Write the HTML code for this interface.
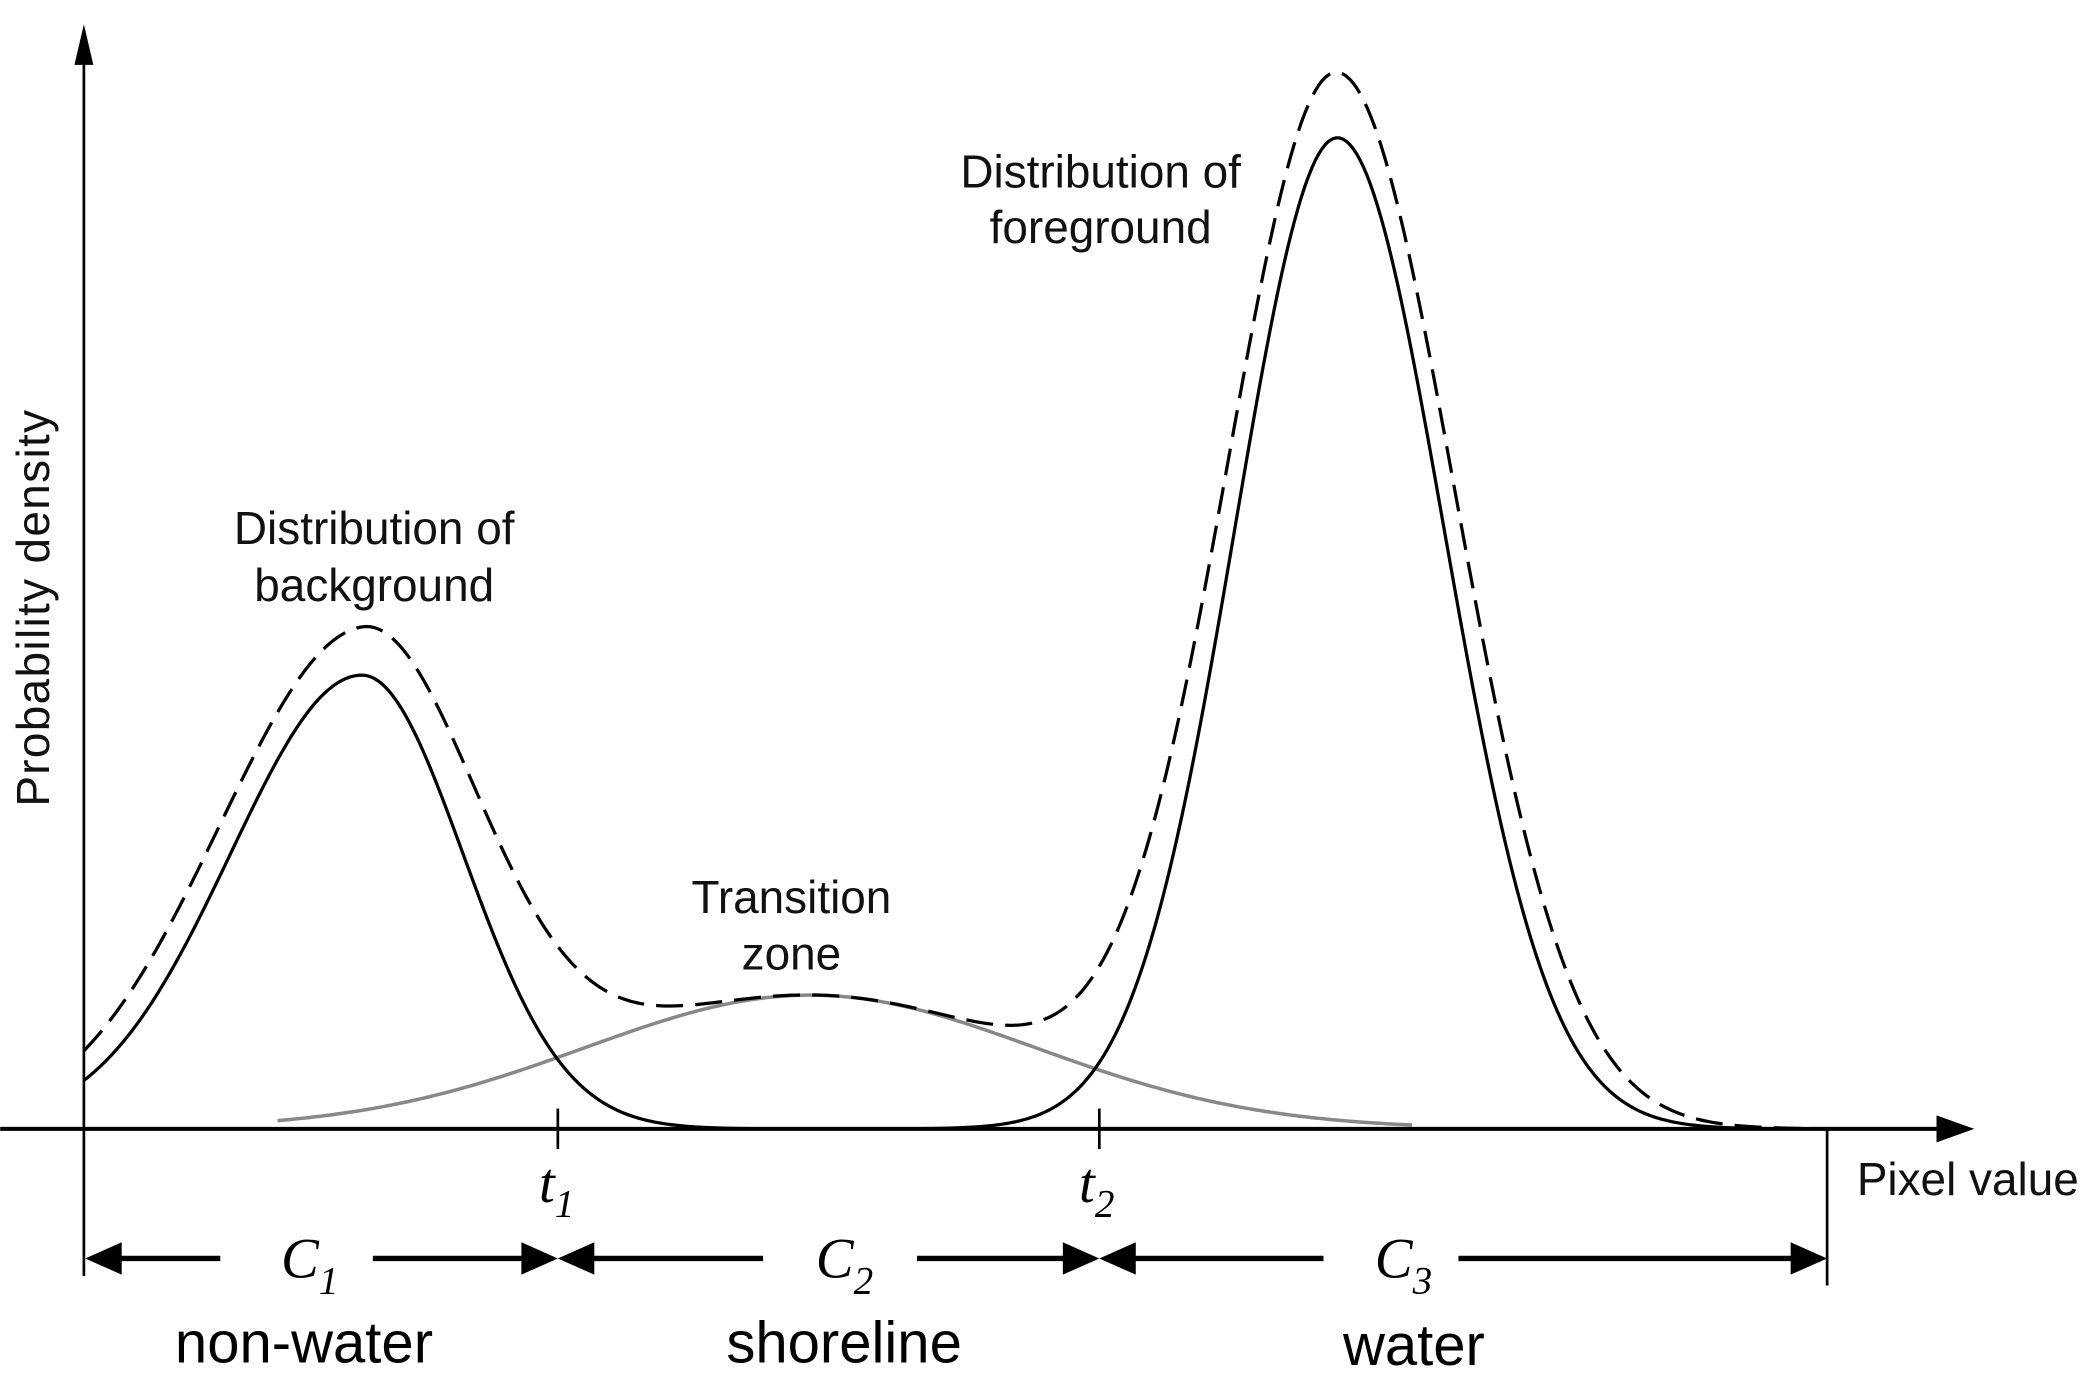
<!DOCTYPE html>
<html><head><meta charset="utf-8"><style>
html,body{margin:0;padding:0;background:#fff;}
svg{display:block;font-family:"Liberation Sans",sans-serif;}
.lbl{font-size:34px;fill:#111;}
.big{font-size:43px;fill:#000;}
.it{font-family:"Liberation Serif",serif;font-style:italic;font-size:42px;fill:#000;}
.sub{font-family:"Liberation Serif",serif;font-style:italic;font-size:29px;fill:#000;}
</style></head><body>
<svg id="chart" width="2096" height="1380" viewBox="0 0 1552 1022" xmlns="http://www.w3.org/2000/svg">
<g id="curves"></g>
<line x1="62" y1="836" x2="62" y2="22" stroke="#000" stroke-width="2"/>
<path d="M55,48 L62,18 L69,48 z" fill="#000"/>
<line x1="0" y1="836" x2="1436" y2="836" stroke="#000" stroke-width="3"/>
<path d="M1434,826 L1462,836 L1434,846 z" fill="#000"/>
<line x1="1353" y1="836" x2="1353" y2="952" stroke="#000" stroke-width="2"/>
<line x1="62" y1="836" x2="62" y2="945" stroke="#000" stroke-width="2"/>
<line x1="413" y1="821" x2="413" y2="851" stroke="#000" stroke-width="2"/>
<line x1="814" y1="821" x2="814" y2="851" stroke="#000" stroke-width="2"/>
<text class="it" x="399" y="890">t<tspan class="sub" dy="11">1</tspan></text>
<text class="it" x="799" y="890">t<tspan class="sub" dy="11">2</tspan></text>
<text class="lbl" x="1375" y="885">Pixel value</text>
<text class="lbl" transform="translate(36,450) rotate(-90)" text-anchor="middle" style="letter-spacing:1px">Probability density</text>
<g stroke="#000" stroke-width="4" fill="#000">
<line x1="70" y1="932" x2="163" y2="932"/><line x1="276" y1="932" x2="404" y2="932"/>
<line x1="422" y1="932" x2="565" y2="932"/><line x1="679" y1="932" x2="805" y2="932"/>
<line x1="823" y1="932" x2="980" y2="932"/><line x1="1080" y1="932" x2="1344" y2="932"/>
<path stroke="none" d="M63,932 L90,920 L90,944z M413,932 L386,920 L386,944z M413,932 L440,920 L440,944z M814,932 L787,920 L787,944z M814,932 L841,920 L841,944z M1353,932 L1326,920 L1326,944z"/>
</g>
<text class="it" x="208" y="946">C<tspan class="sub" dy="12">1</tspan></text>
<text class="it" x="604" y="946">C<tspan class="sub" dy="12">2</tspan></text>
<text class="it" x="1018" y="946">C<tspan class="sub" dy="12">3</tspan></text>
<text class="big" x="225" y="1009" text-anchor="middle">non-water</text>
<text class="big" x="625" y="1009" text-anchor="middle">shoreline</text>
<text class="big" x="1047" y="1011" text-anchor="middle">water</text>
<text class="lbl" text-anchor="middle"><tspan x="277" y="403">Distribution of</tspan><tspan x="277" y="445">background</tspan></text>
<text class="lbl" text-anchor="middle"><tspan x="815" y="139">Distribution of</tspan><tspan x="815" y="180">foreground</tspan></text>
<text class="lbl" text-anchor="middle"><tspan x="586" y="676">Transition</tspan><tspan x="586" y="718">zone</tspan></text>
</svg>
<script>
// Pixel-value domain (0..252) and density peaks (relative units)
const bgParams = [40.2, 0.336, 19, 14.6];      // mean, amplitude, sigma-left, sigma-right
const fgParams = [181.2, 0.734, 14.8, 15.4];
const trParams = [105, 0.099, 32.6, 32.6];
const bgDashed = [40.2, 0.358, 21, 16.5];
const fgDashed = [181.2, 0.776, 16, 17];
const trRange = [28, 192];

const X0 = 62, X1 = 1353, Y0 = 836, YS = 1000;
function xs(v){ return X0 + v*(X1-X0)/252; }
function ys(d){ return Y0 - d*YS; }
function g(p, v){ const s = v < p[0] ? p[2] : p[3]; return p[1]*Math.exp(-(v-p[0])*(v-p[0])/(2*s*s)); }
const ns = "http://www.w3.org/2000/svg";
const grp = document.getElementById('curves');
function path(fn, a, b, stroke, w, dash, name){
  let d = "";
  for(let v=a; v<=b+1e-9; v+=0.5){ d += (d?"L":"M")+xs(v).toFixed(2)+","+ys(fn(v)).toFixed(2); }
  const p = document.createElementNS(ns,'path');
  p.setAttribute('d', d);
  p.setAttribute('fill','none');
  p.setAttribute('stroke', stroke);
  p.setAttribute('stroke-width', w);
  if(dash) p.setAttribute('stroke-dasharray', dash);
  
  
  grp.appendChild(p);
}
path(v=>g(trParams,v), trRange[0], trRange[1], '#888', 2.6, null, 'transition-zone-curve');
path(v=>g(bgParams,v)+g(fgParams,v), 0, 244, '#000', 2.4, null, 'class-distribution-curve');
path(v=>g(bgDashed,v)+g(fgDashed,v)+g(trParams,v), 0, 252, '#000', 2.4, '20 9', 'mixture-distribution-curve');
</script>
</body></html>
